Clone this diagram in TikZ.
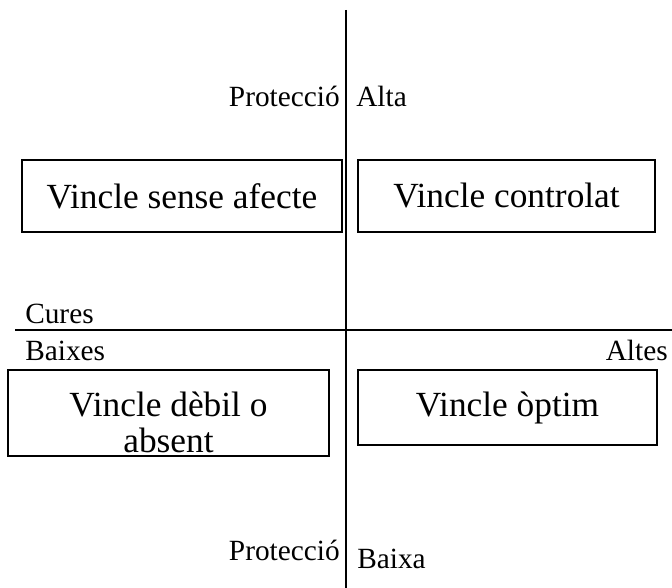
\documentclass[tikz,border=0pt]{standalone}
\usepackage{fontspec}
\setmainfont{Liberation Serif}
\begin{document}
\begin{tikzpicture}[x=0.75pt,y=-0.75pt,
  quad/.style={draw,line width=1.1pt,inner sep=0pt,align=center,
    font=\fontsize{26.5}{34}\selectfont},
  quadtext/.style={inner sep=0pt,align=center,
    font=\fontsize{26.5}{26.5}\selectfont},
  lbl/.style={inner sep=0pt,font=\fontsize{22}{26}\selectfont},
  axis/.style={line width=1.6pt}]
\useasboundingbox (0,0) rectangle (672,588);
% axes
\coordinate (vtop) at (346,10);
\coordinate (vbot) at (346,588);
\coordinate (hleft) at (15,330);
\coordinate (hright) at (672,330);
\draw[axis] (vtop) -- (vbot);
\draw[axis] (hleft) -- (hright);
% quadrant boxes (sizes in pt: pixel size times 0.75)
\node[quad,minimum width=240pt,minimum height=54pt] (sense) at (182,196) {Vincle sense afecte};
\node[quad,minimum width=222.75pt,minimum height=54pt] (contr) at (506.5,196) {Vincle controlat};
\node[quad,minimum width=240.75pt,minimum height=64.5pt] (debil) at (168.5,413) {};
\node[quadtext] (debiltext) at ([yshift=-7pt]debil.center) {Vincle dèbil o\\absent};
\node[quad,minimum width=224.25pt,minimum height=56.25pt] (optim) at (507.5,407.5) {Vincle òptim};
% axis labels
\node[lbl,anchor=base east] (protA) at (340,107) {Protecció};
\node[lbl,anchor=base west] (alta) at (356,107) {Alta};
\node[lbl,anchor=base west] (cures) at (25,324) {Cures};
\node[lbl,anchor=base west] (baixes) at (25,360) {Baixes};
\node[lbl,anchor=base east] (altes) at (668,360) {Altes};
\node[lbl,anchor=base east] (protB) at (340,560) {Protecció};
\node[lbl,anchor=base west] (baixa) at (357,568) {Baixa};
\end{tikzpicture}
\end{document}
